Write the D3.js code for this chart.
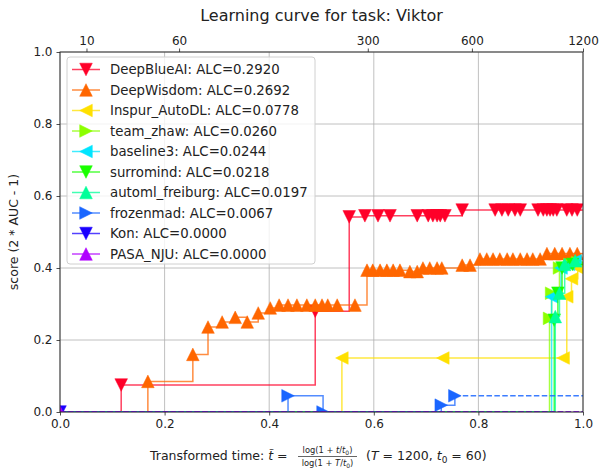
<!DOCTYPE html>
<html><head><meta charset="utf-8">
<script src="https://cdn.jsdelivr.net/npm/d3@7"></script>
<style>body{margin:0;background:#fff} text{font-family:"DejaVu Sans",sans-serif;fill:#222}</style>
</head><body><svg id="c" width="599" height="471"></svg>
<script>
// ---------- data ----------
const teamNames = ["DeepBlueAI","DeepWisdom","Inspur_AutoDL","team_zhaw","baseline3","surromind","automl_freiburg","frozenmad","Kon","PASA_NJU"];
const alcScores = [0.2920,0.2692,0.0778,0.0260,0.0244,0.0218,0.0197,0.0067,0.0000,0.0000];
const teamColors = ["#ff0029","#ff6600","#ffe000","#8cff00","#00e5ff","#1aff00","#00ff99","#1a66ff","#1a00ff","#b000ff"];
const markerKinds = ["down","up","left","right","left","down","up","right","down","up"];

const timesDeepBlueAI = [0.117,0.488,0.553,0.583,0.608,0.631,0.683,0.704,0.713,0.721,0.727,0.736,0.769,0.832,0.845,0.857,0.870,0.880,0.914,0.924,0.931,0.937,0.943,0.950,0.969,0.979,0.989];
const scoresDeepBlueAI = [0.075,0.280,0.542,0.545,0.545,0.545,0.545,0.545,0.545,0.545,0.545,0.545,0.561,0.561,0.561,0.561,0.561,0.561,0.561,0.561,0.561,0.561,0.561,0.561,0.561,0.561,0.561];

const timesDeepWisdom = [0.168,0.254,0.283,0.310,0.335,0.358,0.379,0.402,0.419,0.436,0.453,0.472,0.488,0.501,0.512,0.530,0.564,0.587,0.598,0.612,0.625,0.637,0.650,0.669,0.683,0.694,0.707,0.721,0.730,0.769,0.784,0.803,0.816,0.828,0.841,0.855,0.866,0.880,0.893,0.904,0.918,0.931,0.946,0.960,0.975,0.989];
const scoresDeepWisdom = [0.085,0.160,0.236,0.250,0.263,0.250,0.275,0.289,0.297,0.297,0.297,0.297,0.297,0.297,0.297,0.297,0.297,0.394,0.394,0.394,0.394,0.394,0.394,0.390,0.390,0.400,0.400,0.400,0.400,0.408,0.408,0.425,0.425,0.425,0.425,0.425,0.425,0.425,0.425,0.425,0.425,0.440,0.440,0.440,0.440,0.440];

const timesInspur = [0.539,0.732,0.962,0.969,0.978,0.990];
const scoresInspur = [0.150,0.150,0.150,0.320,0.370,0.400];

const timesZhaw = [0.936,0.940,0.955,0.975,0.990];
const scoresZhaw = [0.260,0.330,0.400,0.410,0.415];

const timesBaseline3 = [0.940,0.958,0.972,0.985];
const scoresBaseline3 = [0.320,0.400,0.410,0.420];

const timesSurromind = [0.945,0.952,0.960,0.980];
const scoresSurromind = [0.255,0.330,0.400,0.410];

const timesFreiburg = [0.947,0.955,0.965,0.985];
const scoresFreiburg = [0.265,0.330,0.410,0.420];

const timesFrozenmad = [0.436,0.503,0.729,0.755];
const scoresFrozenmad = [0.045,0.000,0.019,0.045];

const timesKon = [0.0];
const scoresKon = [0.0];

const timesPasa = [0.0];
const scoresPasa = [0.0];

const seriesTimes = [timesDeepBlueAI,timesDeepWisdom,timesInspur,timesZhaw,timesBaseline3,timesSurromind,timesFreiburg,timesFrozenmad,timesKon,timesPasa];
const seriesScores = [scoresDeepBlueAI,scoresDeepWisdom,scoresInspur,scoresZhaw,scoresBaseline3,scoresSurromind,scoresFreiburg,scoresFrozenmad,scoresKon,scoresPasa];

const xTickValues = [0.0,0.2,0.4,0.6,0.8,1.0];
const yTickValues = [0.0,0.2,0.4,0.6,0.8,1.0];
const topTickSeconds = [10,60,300,600,1200];
const T = 1200, t0 = 60;

// ---------- drawing ----------
const svg = d3.select("#c");
const L = 60, R = 583, TOP = 52, BOT = 412;
const x = d3.scaleLinear().domain([0,1]).range([L,R]);
const y = d3.scaleLinear().domain([0,1]).range([BOT,TOP]);
const transform = t => Math.log(1 + t/t0)/Math.log(1 + T/t0);

svg.append("defs").append("clipPath").attr("id","pa")
  .append("rect").attr("x",L).attr("y",TOP).attr("width",R-L).attr("height",BOT-TOP);

// grid
const grid = svg.append("g");
xTickValues.forEach(v => grid.append("line").attr("x1",x(v)).attr("x2",x(v)).attr("y1",TOP).attr("y2",BOT)
  .attr("stroke","#b0b0b0").attr("stroke-width",0.8));
yTickValues.forEach(v => grid.append("line").attr("y1",y(v)).attr("y2",y(v)).attr("x1",L).attr("x2",R)
  .attr("stroke","#b0b0b0").attr("stroke-width",0.8));

// axes
const fmt = d3.format(".1f");
const bottomAxis = d3.axisBottom(x).tickValues(xTickValues).tickFormat(fmt).tickSize(3.5).tickPadding(4);
const leftAxis = d3.axisLeft(y).tickValues(yTickValues).tickFormat(fmt).tickSize(3.5).tickPadding(4);
const topAxis = d3.axisTop(x).tickValues(topTickSeconds.map(transform)).tickFormat((d,i)=>topTickSeconds[i]).tickSize(3.5).tickPadding(4);

function styleAxis(g){
  g.select(".domain").remove();
  g.selectAll("line").attr("stroke","#222").attr("stroke-width",0.8);
  g.selectAll("text").attr("font-size",12).attr("fill","#222").style("font-family","DejaVu Sans");
}
svg.append("g").attr("transform",`translate(0,${BOT})`).call(bottomAxis).call(styleAxis);
svg.append("g").attr("transform",`translate(${L},0)`).call(leftAxis).call(styleAxis);
svg.append("g").attr("transform",`translate(0,${TOP})`).call(topAxis).call(styleAxis);

// markers
function markerPath(kind, s){
  const pts = {
    down: [[0,s],[-s,-s],[s,-s]],
    up: [[0,-s],[-s,s],[s,s]],
    left: [[-s,0],[s,-s],[s,s]],
    right: [[s,0],[-s,-s],[-s,s]]
  }[kind];
  return "M" + pts.map(p=>p.join(",")).join("L") + "Z";
}
const MS = 6.3;

const plot = svg.append("g").attr("clip-path","url(#pa)");
const stepLine = d3.line().x(d=>x(d[0])).y(d=>y(d[1])).curve(d3.curveStepAfter);

teamNames.forEach((name,i) => {
  const pts = seriesTimes[i].map((t,j)=>[t, seriesScores[i][j]]);
  const col = teamColors[i];
  const g = plot.append("g");
  const linePts = (pts[0][0] > 0 ? [[0,0]] : []).concat(pts);
  g.append("path").attr("d", stepLine(linePts)).attr("fill","none")
    .attr("stroke",col).attr("stroke-width",1.5).attr("stroke-opacity",0.75);
  const last = pts[pts.length-1];
  g.append("path").attr("d", stepLine([last,[1,last[1]]])).attr("fill","none")
    .attr("stroke",col).attr("stroke-width",1.5).attr("stroke-dasharray","5.5,2.4").attr("stroke-opacity",0.85);
  g.selectAll("path.m").data(pts).enter().append("path").attr("class","m")
    .attr("d", markerPath(markerKinds[i], MS))
    .attr("transform", d=>`translate(${x(d[0])},${y(d[1])})`)
    .attr("fill", col).attr("stroke", col).attr("stroke-width",0.5);
});

// frame
svg.append("rect").attr("x",L).attr("y",TOP).attr("width",R-L).attr("height",BOT-TOP)
  .attr("fill","none").attr("stroke","#222").attr("stroke-width",0.9);

// legend
const lg = svg.append("g");
lg.append("rect").attr("x",67).attr("y",57).attr("width",248).attr("height",207).attr("rx",3)
  .attr("fill","#fff").attr("fill-opacity",0.8).attr("stroke","#d0d0d0").attr("stroke-width",1);
teamNames.forEach((name,i) => {
  const cy = 69.5 + i*20.5;
  lg.append("line").attr("x1",72).attr("x2",100).attr("y1",cy).attr("y2",cy)
    .attr("stroke",teamColors[i]).attr("stroke-width",1.5).attr("stroke-opacity",0.75);
  lg.append("path").attr("d",markerPath(markerKinds[i],MS)).attr("transform",`translate(86,${cy})`)
    .attr("fill",teamColors[i]).attr("stroke",teamColors[i]).attr("stroke-width",0.5);
  lg.append("text").attr("x",110).attr("y",cy+4.7).attr("font-size",13.3)
    .text(`${name}: ALC=${alcScores[i].toFixed(4)}`);
});

// title
svg.append("text").attr("x",(L+R)/2).attr("y",21).attr("text-anchor","middle").attr("font-size",16)
  .text("Learning curve for task: Viktor");

// y label
svg.append("text").attr("transform",`translate(18,${(TOP+BOT)/2}) rotate(-90)`).attr("text-anchor","middle")
  .attr("font-size",12.5).text("score (2 * AUC - 1)");

// x label with fraction
const xl = svg.append("g");
const t1 = xl.append("text").attr("x",150).attr("y",460).attr("font-size",12.5);
t1.append("tspan").text("Transformed time: ");
t1.append("tspan").attr("font-style","italic").text("t\u0303");
t1.append("tspan").text(" = ");
const fx = 327.5;
const num = xl.append("text").attr("x",fx).attr("y",453).attr("text-anchor","middle").attr("font-size",8.3);
num.append("tspan").text("log(1 + ");
num.append("tspan").attr("font-style","italic").text("t");
num.append("tspan").text("/");
num.append("tspan").attr("font-style","italic").text("t");
num.append("tspan").attr("font-size",6).attr("dy",1.5).text("0");
num.append("tspan").attr("dy",-1.5).text(")");
xl.append("line").attr("x1",298).attr("x2",357).attr("y1",456.5).attr("y2",456.5).attr("stroke","#222").attr("stroke-width",0.7);
const den = xl.append("text").attr("x",fx).attr("y",466).attr("text-anchor","middle").attr("font-size",8.3);
den.append("tspan").text("log(1 + ");
den.append("tspan").attr("font-style","italic").text("T");
den.append("tspan").text("/");
den.append("tspan").attr("font-style","italic").text("t");
den.append("tspan").attr("font-size",6).attr("dy",1.5).text("0");
den.append("tspan").attr("dy",-1.5).text(")");
const t2 = xl.append("text").attr("x",366).attr("y",460).attr("font-size",12.5);
t2.append("tspan").text("(");
t2.append("tspan").attr("font-style","italic").text("T");
t2.append("tspan").text(" = 1200,  ");
t2.append("tspan").attr("font-style","italic").text("t");
t2.append("tspan").attr("font-size",9).attr("dy",2.5).text("0");
t2.append("tspan").attr("dy",-2.5).text(" = 60)");
</script></body></html>
